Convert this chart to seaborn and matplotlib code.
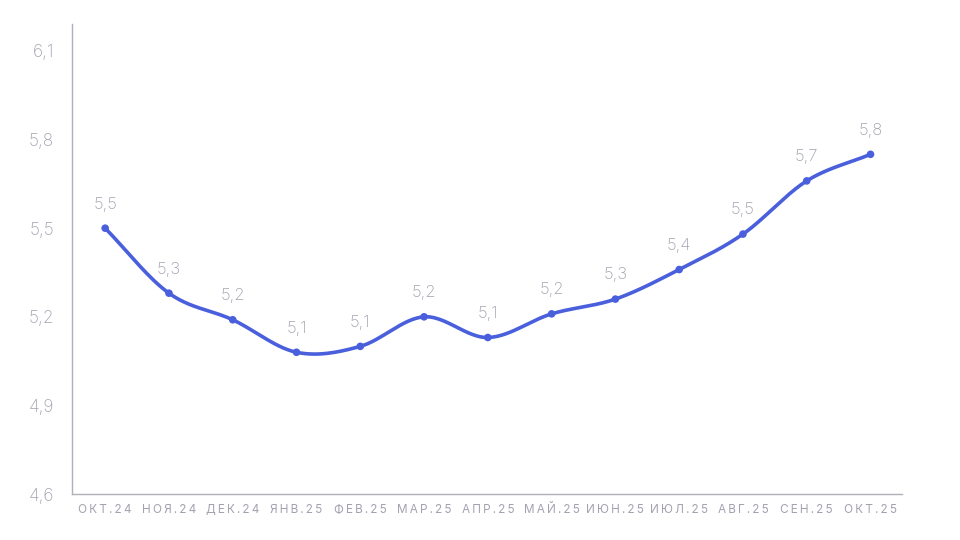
import numpy as np
import pandas as pd
import seaborn as sns
import matplotlib
matplotlib.use('Agg')
import matplotlib.pyplot as plt

# Data
months = ['ОКТ.24', 'НОЯ.24', 'ДЕК.24', 'ЯНВ.25', 'ФЕВ.25', 'МАР.25', 'АПР.25',
          'МАЙ.25', 'ИЮН.25', 'ИЮЛ.25', 'АВГ.25', 'СЕН.25', 'ОКТ.25']
values = [5.50, 5.28, 5.19, 5.08, 5.10, 5.20, 5.13, 5.21, 5.26, 5.36, 5.48, 5.66, 5.75]
value_labels = ['5,5', '5,3', '5,2', '5,1', '5,1', '5,2', '5,1', '5,2', '5,3', '5,4', '5,5', '5,7', '5,8']
y_ticks = [4.6, 4.9, 5.2, 5.5, 5.8, 6.1]
y_tick_labels = ['4,6', '4,9', '5,2', '5,5', '5,8', '6,1']

line_color = '#4a5fdc'
text_color = '#a3a2b0'
spine_color = '#b0b0b8'

sns.set_theme(style='white')
plt.rcParams['font.family'] = ['Inter', 'DejaVu Sans']

df = pd.DataFrame({'x': np.arange(len(months)), 'y': values})


# Catmull-Rom smoothing for the line shape only
def smooth(x, y, n=30):
    x = np.asarray(x, float)
    y = np.asarray(y, float)
    px = np.concatenate([[2 * x[0] - x[1]], x, [2 * x[-1] - x[-2]]])
    py = np.concatenate([[2 * y[0] - y[1]], y, [2 * y[-1] - y[-2]]])
    xs, ys = [], []
    t = np.linspace(0, 1, n)
    for i in range(1, len(px) - 2):
        for arr, out in ((px, xs), (py, ys)):
            p0, p1, p2, p3 = arr[i - 1], arr[i], arr[i + 1], arr[i + 2]
            out.append(0.5 * ((2 * p1) + (-p0 + p2) * t +
                              (2 * p0 - 5 * p1 + 4 * p2 - p3) * t ** 2 +
                              (-p0 + 3 * p1 - 3 * p2 + p3) * t ** 3))
    return np.concatenate(xs), np.concatenate(ys)


fig, ax = plt.subplots(figsize=(9.6, 5.4), dpi=100)
fig.subplots_adjust(left=0.075, right=0.94, top=0.955, bottom=0.085)

sx, sy = smooth(df['x'], df['y'])
ax.plot(sx, sy, color=line_color, lw=2.6, solid_capstyle='round', zorder=2)
sns.scatterplot(data=df, x='x', y='y', color=line_color, s=30, edgecolor='none',
                ax=ax, zorder=3, legend=False)

for xi, yi, lab in zip(df['x'], df['y'], value_labels):
    ax.annotate(lab, (xi, yi), xytext=(0, 12), textcoords='offset points',
                ha='center', va='bottom', fontsize=12, color=text_color,
                fontweight='light')

ax.set_xlim(-0.52, 12.5)
ax.set_ylim(4.6, 6.19)
ax.set_yticks(y_ticks)
ax.set_yticklabels(y_tick_labels, fontsize=12.5, color=text_color, fontweight='light')
ax.set_xticks(df['x'])
ax.set_xticklabels(['\u2009'.join(m) for m in months], fontsize=8.5, color=text_color)
ax.tick_params(axis='both', length=0)
ax.tick_params(axis='y', pad=13)
ax.tick_params(axis='x', pad=7)
ax.set_xlabel('')
ax.set_ylabel('')

for side in ['top', 'right']:
    ax.spines[side].set_visible(False)
for side in ['left', 'bottom']:
    ax.spines[side].set_color(spine_color)
    ax.spines[side].set_linewidth(1)

plt.savefig('out.png', dpi=100, facecolor='white')
